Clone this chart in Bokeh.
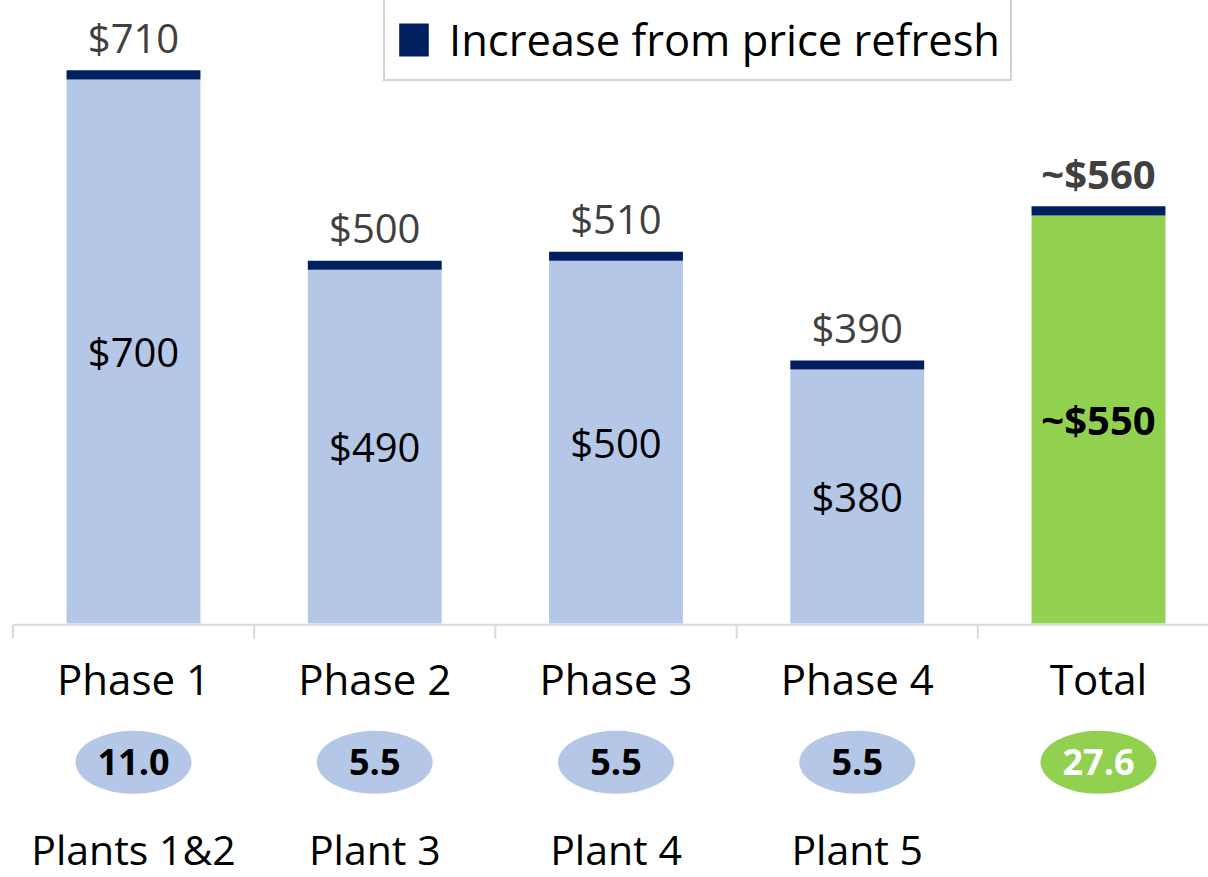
from bokeh.plotting import figure
from bokeh.models import ColumnDataSource, Legend, LegendItem, Range1d
from bokeh.core.properties import value
from bokeh.embed import file_html
from bokeh.resources import INLINE

# ---- data ----
phases = ["Phase 1", "Phase 2", "Phase 3", "Phase 4", "Total"]
base_values = [700, 490, 500, 380, 550]
top_values = [710, 500, 510, 390, 560]
base_labels = ["$700", "$490", "$500", "$380", "~$550"]
top_labels = ["$710", "$500", "$510", "$390", "~$560"]
capacity = ["11.0", "5.5", "5.5", "5.5", "27.6"]
plants = ["Plants 1&2", "Plant 3", "Plant 4", "Plant 5", ""]
legend_label = "Increase from price refresh"

# ---- layout / style ----
FONT = "Open Sans"
AXIS_FLOOR = 100          # value axis starts here (bars are drawn from it)
CAT_Y = 39                # category label row (data units)
PILL_Y = -53              # ellipse centre row
PLANT_Y = -149            # plant label row
LIGHT = "#B4C7E7"
NAVY = "#002060"
GREEN = "#92D050"
GREY_TXT = "#404040"
AXIS_GREY = "#D9D9D9"
n = len(phases)
is_total = [p == "Total" for p in phases]
xs = list(range(n))

bar_colors = [GREEN if t else LIGHT for t in is_total]
pill_text_colors = ["#FFFFFF" if t else "#000000" for t in is_total]
styles = ["bold" if t else "normal" for t in is_total]

src = ColumnDataSource(dict(
    x=xs,
    floor=[AXIS_FLOOR] * n,
    base=base_values,
    top=top_values,
    mid=[(AXIS_FLOOR + b) / 2 for b in base_values],
    base_labels=base_labels,
    top_labels=top_labels,
    bar_colors=bar_colors,
    styles=styles,
    capacity=capacity,
    pill_text_colors=pill_text_colors,
    phases=phases,
    plants=plants,
    cat_y=[CAT_Y] * n,
    pill_y=[PILL_Y] * n,
    plant_y=[PLANT_Y] * n,
))

p = figure(width=1208, height=877, x_range=Range1d(-0.5513, 4.456),
           y_range=Range1d(-180, 787), toolbar_location=None,
           output_backend="svg", x_axis_location=None, y_axis_location=None,
           min_border=0, min_border_left=0, min_border_right=0,
           min_border_top=0, min_border_bottom=0, outline_line_color=None)
p.grid.visible = False
p.background_fill_color = "white"

BW = 0.555
p.vbar(x="x", bottom="floor", top="base", width=BW, fill_color="bar_colors",
       line_color=None, source=src)
cap_r = p.vbar(x="x", bottom="base", top="top", width=BW, fill_color=NAVY,
               line_color=None, source=src)

# category axis line and separators
bounds = [i - 0.5 for i in range(n + 1)]
p.segment(x0=[bounds[0]], y0=[AXIS_FLOOR - 1.2], x1=[bounds[-1]],
          y1=[AXIS_FLOOR - 1.2], line_color=AXIS_GREY, line_width=2)
p.segment(x0=bounds, y0=[AXIS_FLOOR - 1.2] * len(bounds), x1=bounds,
          y1=[AXIS_FLOOR - 16.5] * len(bounds), line_color=AXIS_GREY,
          line_width=2)

# value labels
p.text(x="x", y="top", text="top_labels", source=src, text_align="center",
       text_baseline="middle", y_offset=-33, text_font=value(FONT),
       text_font_size="40px", text_color=GREY_TXT, text_font_style="styles")
p.text(x="x", y="mid", text="base_labels", source=src, text_align="center",
       text_baseline="middle", text_font=value(FONT), text_font_size="40px",
       text_color="#000000", text_font_style="styles")

# category labels
p.text(x="x", y="cat_y", text="phases", source=src, text_align="center",
       text_baseline="middle", text_font=value(FONT),
       text_font_size="42px", text_color="#000000")

# capacity pills
p.ellipse(x="x", y="pill_y", width=116, height=63, width_units="screen",
          height_units="screen", fill_color="bar_colors", line_color=None,
          source=src)
p.text(x="x", y="pill_y", text="capacity", source=src, text_align="center",
       text_baseline="middle", text_font=value(FONT), text_font_size="36px",
       text_font_style="bold", text_color="pill_text_colors")

# plant labels
p.text(x="x", y="plant_y", text="plants", source=src, text_align="center",
       text_baseline="middle", text_font=value(FONT),
       text_font_size="41px", text_color="#000000")

legend = Legend(items=[LegendItem(label=legend_label, renderers=[cap_r])],
                location=(383, 796), orientation="vertical",
                label_text_font=FONT, label_text_font_size="43.5px",
                label_text_color="#000000", glyph_width=37, glyph_height=41,
                label_standoff=17, padding=10, margin=0, spacing=0,
                border_line_color="#A6A6A6", border_line_width=2,
                background_fill_color="white", background_fill_alpha=1)
p.add_layout(legend)

open("out.html", "w").write(file_html(p, INLINE))
